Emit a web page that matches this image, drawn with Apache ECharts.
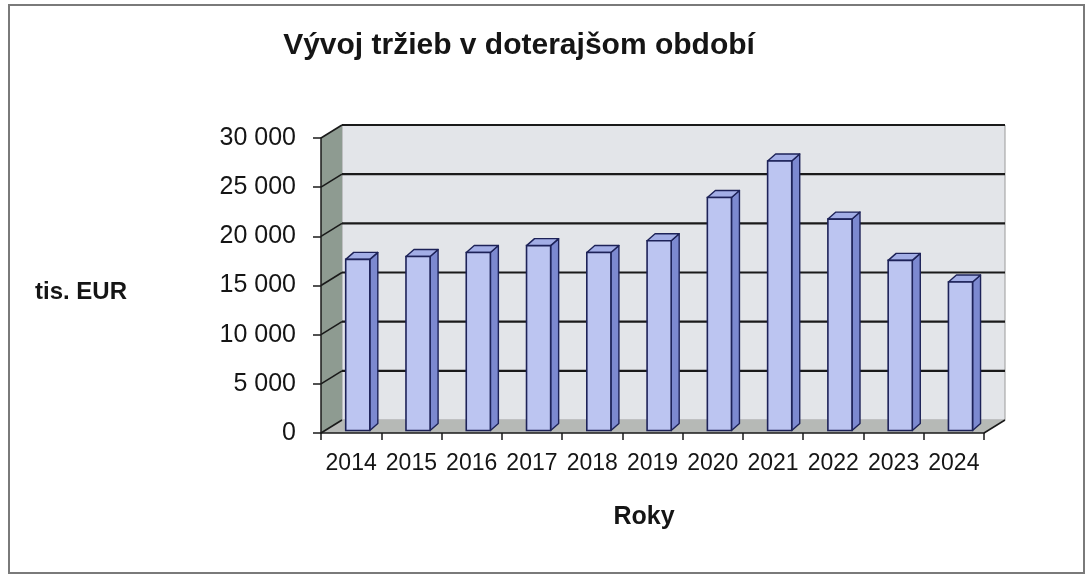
<!DOCTYPE html>
<html><head><meta charset="utf-8">
<script src="https://cdn.jsdelivr.net/npm/echarts@6/dist/echarts.min.js"></script>
<style>html,body{margin:0;padding:0;background:#fff}#c{width:1085px;height:575px}</style>
</head><body><div id="c"></div>
<script>
// ---- data ----
const categories = ['2014','2015','2016','2017','2018','2019','2020','2021','2022','2023','2024'];
const revenue = [17400, 17700, 18100, 18800, 18100, 19300, 23700, 27400, 21500, 17300, 15100];
const yTicks = [0, 5000, 10000, 15000, 20000, 25000, 30000];
const titleText = 'Vývoj tržieb v doterajšom období';
const yAxisTitle = 'tis. EUR';
const xAxisTitle = 'Roky';

// ---- style constants ----
const FONT = '"Liberation Sans", Arial, sans-serif';
const WALL_DX = 21, WALL_DY = -13;
const BAR_DX = 8, BAR_DY = -7, BAR_BASE_DY = -2.5;
const BAR_LEFT = -0.09, BAR_W = 0.4;
const LINE = '#1a1a1a';
const BAR_STROKE = '#1d2258';

const chart = echarts.init(document.getElementById('c'), null, {renderer: 'canvas'});

function fmt(v) {
  return String(v).replace(/\B(?=(\d{3})+(?!\d))/g, ' ');
}

function renderWalls(params, api) {
  const cs = params.coordSys;
  const x0 = cs.x, x1 = cs.x + cs.width;
  const yv = v => api.coord([0, v])[1];
  const yMin = yv(yTicks[0]), yMax = yv(yTicks[yTicks.length - 1]);
  const children = [];
  // back wall
  children.push({type: 'polygon', shape: {points: [
    [x0 + WALL_DX, yMax + WALL_DY], [x1 + WALL_DX, yMax + WALL_DY],
    [x1 + WALL_DX, yMin + WALL_DY], [x0 + WALL_DX, yMin + WALL_DY]]},
    style: {fill: '#e3e5e9', stroke: '#9a9a9a', lineWidth: 1}});
  // side wall
  children.push({type: 'polygon', shape: {points: [
    [x0, yMin], [x0, yMax], [x0 + WALL_DX, yMax + WALL_DY], [x0 + WALL_DX, yMin + WALL_DY]]},
    style: {fill: '#8e9b91'}});
  // floor
  children.push({type: 'polygon', shape: {points: [
    [x0, yMin], [x1, yMin], [x1 + WALL_DX, yMin + WALL_DY], [x0 + WALL_DX, yMin + WALL_DY]]},
    style: {fill: '#b6b9b6'}});
  children.push({type: 'line', shape: {x1: x1, y1: yMin, x2: x1 + WALL_DX, y2: yMin + WALL_DY},
    style: {stroke: LINE, lineWidth: 1.5}});
  // gridlines
  yTicks.forEach(v => {
    const y = yv(v);
    if (v > 0) {
      children.push({type: 'line', shape: {x1: x0 + WALL_DX, y1: y + WALL_DY, x2: x1 + WALL_DX, y2: y + WALL_DY},
        style: {stroke: LINE, lineWidth: 2.2}});
    }
    children.push({type: 'line', shape: {x1: x0, y1: y, x2: x0 + WALL_DX, y2: y + WALL_DY},
      style: {stroke: LINE, lineWidth: 1.6}});
  });
  return {type: 'group', children: children};
}

function renderBar(params, api) {
  const idx = api.value(0), val = api.value(1);
  const top = api.coord([idx, val]);
  const base = api.coord([idx, 0]);
  const bw = api.size([1, 0])[0];
  const fl = top[0] + BAR_LEFT * bw;
  const fr = fl + BAR_W * bw;
  const yt = top[1] + BAR_BASE_DY;
  const yb = base[1] + BAR_BASE_DY;
  return {type: 'group', children: [
    {type: 'polygon', shape: {points: [[fr, yt], [fr + BAR_DX, yt + BAR_DY], [fr + BAR_DX, yb + BAR_DY], [fr, yb]]},
      style: {fill: '#7c89d0', stroke: BAR_STROKE, lineWidth: 1.4, lineJoin: 'round'}},
    {type: 'polygon', shape: {points: [[fl, yt], [fl + BAR_DX, yt + BAR_DY], [fr + BAR_DX, yt + BAR_DY], [fr, yt]]},
      style: {fill: '#a3aee6', stroke: BAR_STROKE, lineWidth: 1.4, lineJoin: 'round'}},
    {type: 'rect', shape: {x: fl, y: yt, width: fr - fl, height: yb - yt},
      style: {fill: '#bcc5f1', stroke: BAR_STROKE, lineWidth: 1.6}}
  ]};
}

const option = {
  backgroundColor: '#ffffff',
  animation: false,
  grid: {left: 321, right: 101, top: 138, bottom: 142, containLabel: false, outerBoundsMode: 'none'},
  xAxis: {
    type: 'category', data: categories, z: 10,
    axisLine: {show: true, lineStyle: {color: LINE, width: 1.5}},
    axisTick: {show: true, length: 7, lineStyle: {color: LINE, width: 1.5}},
    axisLabel: {color: '#151515', fontSize: 23, fontFamily: FONT, margin: 19, interval: 0},
    splitLine: {show: false}
  },
  yAxis: {
    type: 'value', min: 0, max: 30000, interval: 5000, z: 10,
    axisLine: {show: true, lineStyle: {color: LINE, width: 1.5}},
    axisTick: {show: true, length: 8, lineStyle: {color: LINE, width: 1.5}},
    axisLabel: {color: '#151515', fontSize: 25, fontFamily: FONT, margin: 25, formatter: fmt},
    splitLine: {show: false}
  },
  graphic: [
    {type: 'rect', shape: {x: 9, y: 5, width: 1075, height: 568}, style: {fill: 'none', stroke: '#7a7a7a', lineWidth: 2}, z: 100},
    {type: 'text', style: {text: titleText, x: 519, y: 46, align: 'center', verticalAlign: 'middle',
      font: 'bold 30px ' + FONT, fill: '#151515'}},
    {type: 'text', style: {text: yAxisTitle, x: 81, y: 292, align: 'center', verticalAlign: 'middle',
      font: 'bold 24px ' + FONT, fill: '#151515'}},
    {type: 'text', style: {text: xAxisTitle, x: 644, y: 517, align: 'center', verticalAlign: 'middle',
      font: 'bold 25px ' + FONT, fill: '#151515'}}
  ],
  series: [
    {type: 'custom', name: 'walls', renderItem: renderWalls, data: [[0, 0]], z: 1, silent: true, clip: false},
    {type: 'custom', name: 'Tržby', renderItem: renderBar, z: 3, clip: false,
      encode: {x: 0, y: 1},
      data: revenue.map((v, i) => [i, v])}
  ]
};
chart.setOption(option);
</script>
</body></html>
